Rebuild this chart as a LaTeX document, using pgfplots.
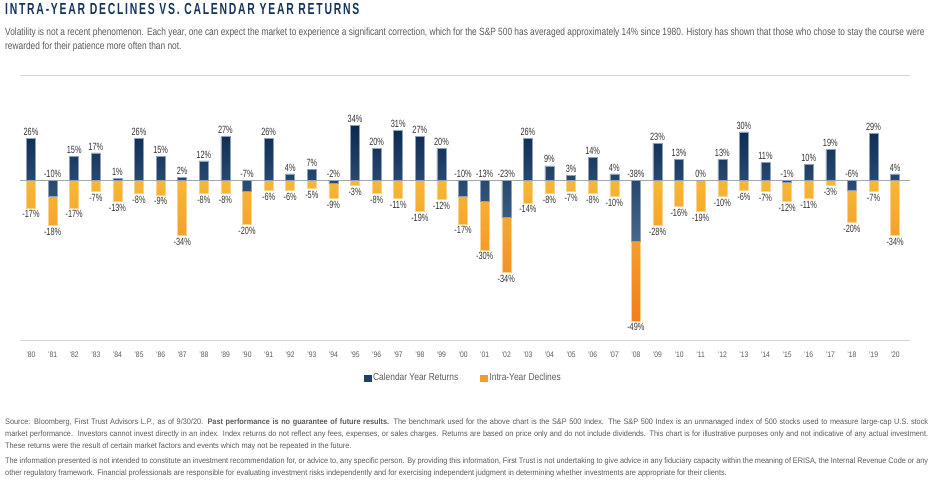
\documentclass[border=0pt]{standalone}
\usepackage{fontspec}
\setmainfont{Liberation Sans}[FakeStretch=0.8]
\newfontfamily\titlefont{Liberation Sans}[FakeStretch=0.65,LetterSpace=11]
\newfontfamily\subfont{Liberation Sans}[FakeStretch=0.795]
\newfontfamily\footfont{Liberation Sans}[FakeStretch=0.915]
\newfontfamily\labfont{Liberation Sans}[FakeStretch=0.7]
\newfontfamily\tickfont{Liberation Sans}[FakeStretch=0.85]
\newfontfamily\legfont{Liberation Sans}[FakeStretch=0.84]
\usepackage{pgfplots}
\usepackage{pgfplotstable}
\pgfplotsset{compat=1.18}
\definecolor{navyT}{HTML}{0A2A52}
\definecolor{navyB}{HTML}{48698F}
\definecolor{navyE}{HTML}{8DA0B6}
\definecolor{navyL}{HTML}{1E3F66}
\definecolor{orT}{HTML}{F6B834}
\definecolor{orB}{HTML}{F47C20}
\definecolor{orE}{HTML}{FAD28C}
\definecolor{orL}{HTML}{F39A2A}
\definecolor{titleblue}{HTML}{15345C}
\definecolor{subgray}{HTML}{595959}
\definecolor{labgray}{HTML}{333333}
\definecolor{rulegray}{HTML}{D4D4D4}
\definecolor{zerogray}{HTML}{A6A6A6}
\newcommand\fullline[1]{\makebox[923pt][s]{#1}}
\pgfplotstableread{
i ret dec
0 26 -17
1 -10 -18
2 15 -17
3 17 -7
4 1 -13
5 26 -8
6 15 -9
7 2 -34
8 12 -8
9 27 -8
10 -7 -20
11 26 -6
12 4 -6
13 7 -5
14 -2 -9
15 34 -3
16 20 -8
17 31 -11
18 27 -19
19 20 -12
20 -10 -17
21 -13 -30
22 -23 -34
23 26 -14
24 9 -8
25 3 -7
26 14 -8
27 4 -10
28 -38 -49
29 23 -28
30 13 -16
31 0 -19
32 13 -10
33 30 -6
34 11 -7
35 -1 -12
36 10 -11
37 19 -3
38 -6 -20
39 29 -7
40 4 -34
}\data
\begin{document}
\begin{tikzpicture}
\path[use as bounding box] (0,0) rectangle (936pt,486pt);
\node[anchor=base west, inner sep=0, text=titleblue, font=\titlefont\bfseries\fontsize{16}{18}\selectfont] at (5pt,471pt) {INTRA-YEAR DECLINES VS. CALENDAR YEAR RETURNS};
\node[anchor=base west, inner sep=0, text=subgray, font=\subfont\fontsize{10.5}{14}\selectfont] at (5pt,450pt) {Volatility is not a recent phenomenon. Each year, one can expect the market to experience a significant correction, which for the S\&P 500 has averaged approximately 14\% since 1980. History has shown that those who chose to stay the course were};
\node[anchor=base west, inner sep=0, text=subgray, font=\subfont\fontsize{10.5}{14}\selectfont] at (5pt,436pt) {rewarded for their patience more often than not.};
\begin{axis}[
  at={(20pt,146pt)}, anchor=south west,
  scale only axis, width=890pt, height=265pt,
  xmin=-0.509, xmax=40.69, ymin=-98.8, ymax=65.2,
  axis line style={draw=none}, major tick length=0pt,
  ytick=\empty,
  xtick={0,...,40},
  xticklabels={’80,’81,’82,’83,’84,’85,’86,’87,’88,’89,’90,’91,’92,’93,’94,’95,’96,’97,’98,’99,’00,’01,’02,’03,’04,’05,’06,’07,’08,’09,’10,’11,’12,’13,’14,’15,’16,’17,’18,’19,’20},
  xticklabel style={font=\tickfont\fontsize{8}{10}\selectfont, text=subgray, yshift=-8pt},
  clip=false,
  legend style={at={(0.498,-0.143)}, anchor=center, draw=none, fill=none,
    legend columns=2, font=\legfont\fontsize{10}{12}\selectfont, text=subgray,
    /tikz/every even column/.append style={column sep=20pt}},
]
\draw[rulegray, line width=0.8pt] (rel axis cs:0,1) -- (rel axis cs:1,1);
\draw[rulegray, line width=0.8pt] (rel axis cs:0,0) -- (rel axis cs:1,0);
\draw[zerogray, line width=1.1pt] ({rel axis cs:0,0}|-{axis cs:0,0}) -- ({rel axis cs:1,0}|-{axis cs:0,0});
\addlegendimage{legend image code/.code={\fill[navyL] (0pt,-3pt) rectangle (7pt,3pt);}}
\addlegendentry{Calendar Year Returns}
\addlegendimage{legend image code/.code={\fill[orL] (0pt,-3pt) rectangle (7pt,3pt);}}
\addlegendentry{Intra-Year Declines}
% intra-year declines (stacked below negative returns)
\addplot[ybar, bar width=9pt, bar shift=0pt, forget plot, draw=orE, line width=0.5pt, top color=orT, bottom color=orB]
  table[x=i, y expr={min(\thisrow{ret},0)+(\thisrow{dec})}] {\data};
% calendar year returns
\addplot[ybar, bar width=9pt, bar shift=0pt, forget plot, draw=navyE, line width=0.5pt, top color=navyT, bottom color=navyB]
  table[x=i, y=ret] {\data};
% labels
\addplot[draw=none, mark=none, forget plot, point meta=explicit symbolic,
  nodes near coords={\pgfplotspointmeta\%},
  every node near coord/.append style={font=\labfont\fontsize{10.5}{12}\selectfont, text=labgray, anchor=south, inner sep=2.5pt}]
  table[x=i, y expr={max(\thisrow{ret},0)}, meta=ret] {\data};
\addplot[draw=none, mark=none, forget plot, point meta=explicit symbolic,
  nodes near coords={\pgfplotspointmeta\%},
  every node near coord/.append style={font=\labfont\fontsize{10.5}{12}\selectfont, text=labgray, anchor=north, inner sep=2.5pt}]
  table[x=i, y expr={min(\thisrow{ret},0)+(\thisrow{dec})}, meta=dec] {\data};
\end{axis}
\begin{scope}[every node/.style={anchor=base west, inner sep=0, text=subgray, font=\footfont\fontsize{8}{12}\selectfont}]
\node at (5pt,61.5pt) {\fullline{Source: Bloomberg, First Trust Advisors L.P., as of 9/30/20. \textbf{Past performance is no guarantee of future results.} The benchmark used for the above chart is the S\&P 500 Index. The S\&P 500 Index is an unmanaged index of 500 stocks used to measure large-cap U.S. stock}};
\node at (5pt,49.5pt) {\fullline{market performance.\ \ Investors cannot invest directly in an index. Index returns do not reflect any fees, expenses, or sales charges. Returns are based on price only and do not include dividends. This chart is for illustrative purposes only and not indicative of any actual investment.}};
\node at (5pt,37.5pt) {These returns were the result of certain market factors and events which may not be repeated in the future.};
\node at (5pt,22.5pt) {\fullline{The information presented is not intended to constitute an investment recommendation for, or advice to, any specific person. By providing this information, First Trust is not undertaking to give advice in any fiduciary capacity within the meaning of ERISA, the Internal Revenue Code or any}};
\node at (5pt,10.5pt) {other regulatory framework. Financial professionals are responsible for evaluating investment risks independently and for exercising independent judgment in determining whether investments are appropriate for their clients.};
\end{scope}
\end{tikzpicture}
\end{document}
